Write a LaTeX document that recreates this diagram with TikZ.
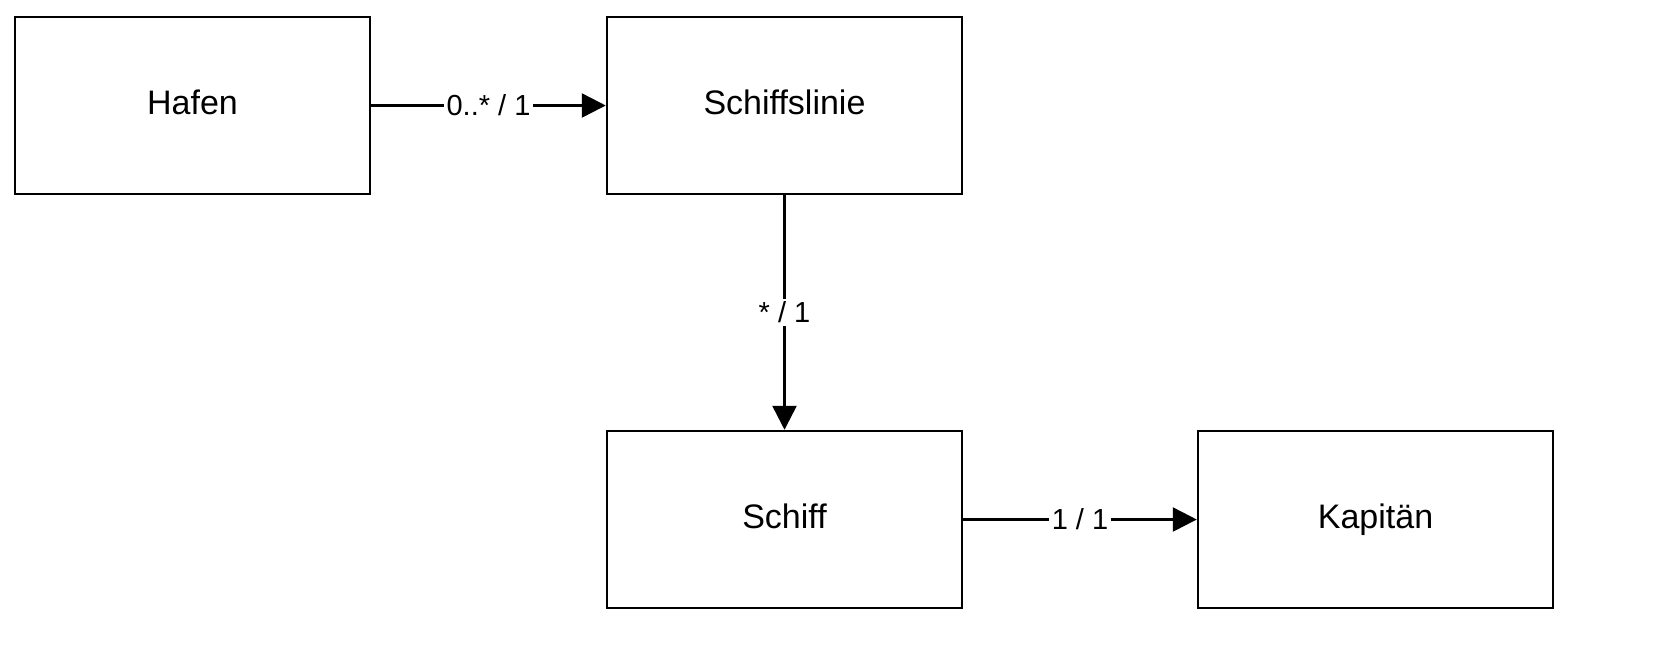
\documentclass[tikz,border=0pt]{standalone}
\usepackage{fontspec}
\setmainfont{Liberation Sans}
\usetikzlibrary{arrows.meta}
\begin{document}
\begin{tikzpicture}[x=0.5pt,y=-0.5pt,
  box/.style={draw,line width=1.25pt,minimum width=177.5pt,minimum height=88.5pt,inner sep=0pt,text height=12pt,text depth=3.5pt,font=\fontsize{17}{20}\selectfont},
  conn/.style={line width=1.25pt,-{Triangle[length=12pt,width=12pt]}},
  lbl/.style={fill=white,inner sep=1.5pt,font=\fontsize{14.5}{17}\selectfont}]
\useasboundingbox (0,0) rectangle (1669,661);
\node[box] (hafen) at (192.5,105.5) {Hafen};
\node[box] (linie) at (784.5,105.5) {Schiffslinie};
\node[box] (schiff) at (784.5,519.5) {Schiff};
\node[box] (kap) at (1375.5,519.5) {Kapitän};
\draw[conn] (hafen) -- node[lbl,pos=0.5]{0..* / 1} (linie);
\draw[conn] (linie) -- node[lbl,pos=0.5]{* / 1} (schiff);
\draw[conn] (schiff) -- node[lbl,pos=0.5]{1 / 1} (kap);
\end{tikzpicture}
\end{document}
